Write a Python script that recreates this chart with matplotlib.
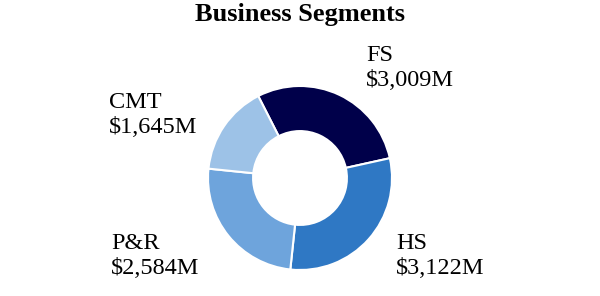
import matplotlib
matplotlib.use("Agg")
import matplotlib.pyplot as plt

segments = ["FS", "HS", "P&R", "CMT"]
revenue = [3009, 3122, 2584, 1645]  # $M
colors = ["#00004A", "#2F78C4", "#6EA4DC", "#9DC2E7"]

W, H = 600, 296
plt.rcParams["font.family"] = ["Liberation Serif", "DejaVu Serif"]

fig = plt.figure(figsize=(W / 100, H / 100), dpi=100)

# donut: centre (300,178) px, radius 92 px
cx, cy, r = 300, 178, 92
ax = fig.add_axes([(cx - r) / W, (H - cy - r) / H, 2 * r / W, 2 * r / H])
ax.pie(revenue, colors=colors, startangle=117, counterclock=False,
       radius=1.0, wedgeprops=dict(width=0.49, edgecolor="white", linewidth=1.5))
ax.set_xlim(-1, 1)
ax.set_ylim(-1, 1)
ax.set_aspect("equal")
ax.axis("off")

fig.text(0.5, 1 - 15 / H, "Business Segments", ha="center", va="center",
         fontsize=19, fontweight="bold")

label_pos = {"FS": (366, 68), "HS": (396, 256), "P&R": (111, 256), "CMT": (109, 115)}
for name, val in zip(segments, revenue):
    x, y = label_pos[name]
    fig.text(x / W, 1 - y / H, f"{name}\n${val:,}M", ha="left", va="center",
             fontsize=17.5, linespacing=1.2)

fig.savefig("out.png", dpi=100)
